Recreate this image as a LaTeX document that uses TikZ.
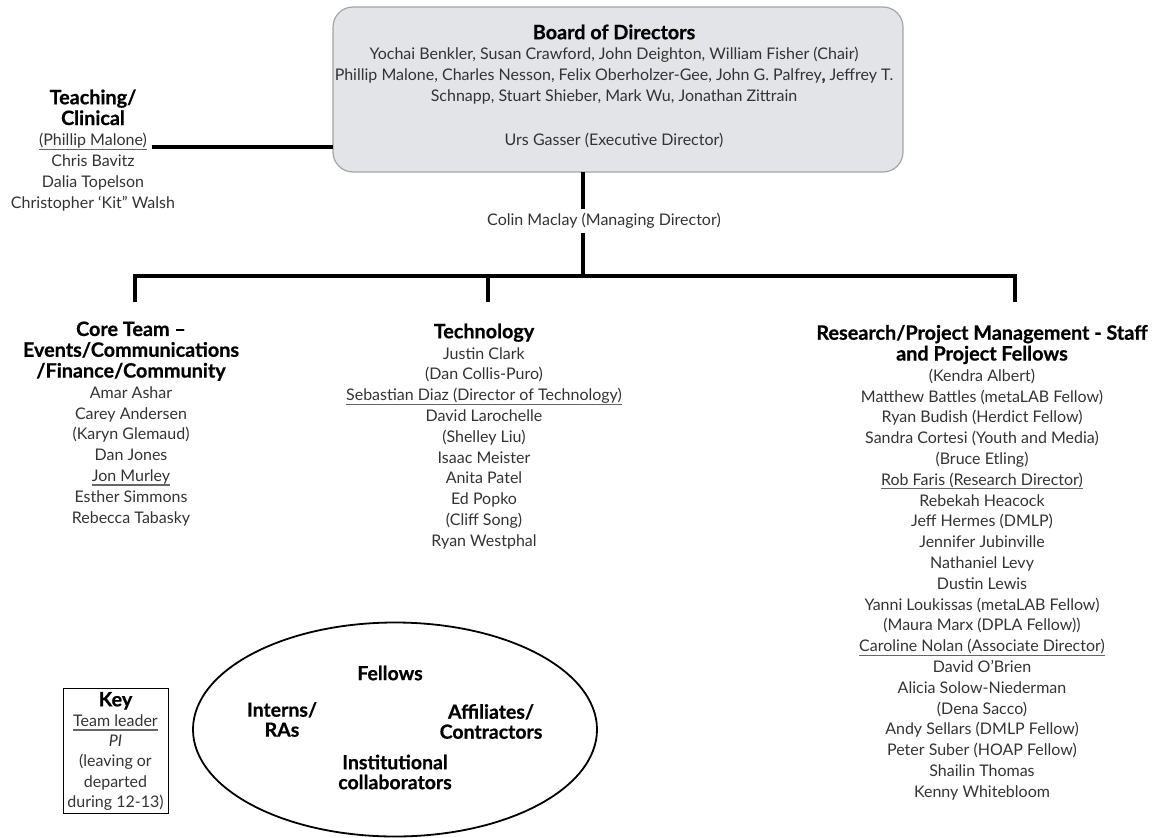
\documentclass[tikz,border=0pt]{standalone}
\usepackage{fontspec}
\setmainfont{Lato}[BoldFeatures={FakeBold=0.7}]
\usetikzlibrary{shapes.geometric}
\definecolor{txt}{HTML}{333333}
\definecolor{uline}{HTML}{666666}
\definecolor{boardfill}{HTML}{E2E4E7}
\definecolor{boardline}{HTML}{A3A5A8}
\newcommand\uln[1]{\setbox0\hbox{#1}\rlap{\color{uline}\rule[-4pt]{\wd0}{1.1pt}}\box0}
\newcommand\hd[1]{{\color{black}\bfseries\fontsize{19.8}{20.8}\selectfont #1}}
\begin{document}
\begin{tikzpicture}[x=1pt,y=-1pt,
  every node/.style={inner sep=0pt, outer sep=0pt},
  names/.style={text=txt, font=\fontsize{16}{20.8}\selectfont, align=center, anchor=north},
  head/.style={text=black, font=\bfseries\fontsize{19.8}{20.8}\selectfont, align=center, anchor=north},
  eltext/.style={text=black, font=\bfseries\fontsize{19.5}{20}\selectfont, align=center},
  conn/.style={line width=3.4pt, line join=miter}]
\useasboundingbox (0,0) rectangle (1154,838);

% Board of directors
\node[draw=boardline, fill=boardfill, rounded corners=20pt, line width=1.2pt,
      minimum width=570pt, minimum height=165pt] (board) at (618,89.5) {};
\node[head] (boardtitle) at (614,24.5) {Board of Directors};
\node[names] (members) at (614,47.5) {Yochai Benkler, Susan Crawford, John Deighton, William Fisher (Chair)\\
Phillip Malone, Charles Nesson, Felix Oberholzer-Gee, John G. Palfrey\textbf{,} Jeffrey T.\\
Schnapp, Stuart Shieber, Mark Wu, Jonathan Zittrain};
\node[names] (urs) at (614,133) {Urs Gasser (Executive Director)};

% Teaching / Clinical
\node[names] (teach) at (93,89.5) {\hd{Teaching/}\\\hd{Clinical}\\\uln{(Phillip Malone)}\\Chris Bavitz\\Dalia Topelson\\Christopher ‘Kit” Walsh};
\coordinate (tc) at (152,147);
\draw[conn] (tc) -- (tc -| board.west);

% Managing director
\coordinate (bus) at (583,276);
\draw[conn] (board.south -| bus) -- (bus);
\node[text=txt, font=\fontsize{16}{20.8}\selectfont, fill=white, inner xsep=1pt, inner ysep=4pt] (colin) at (604,221) {Colin Maclay (Managing Director)};

% Bus and drops
\coordinate (dropL) at (135,302);
\coordinate (dropM) at (488,302);
\coordinate (dropR) at (1015,302);
\draw[conn] (dropL) |- (bus) -| (dropR);
\draw[conn] (dropM) -- (dropM |- bus);

% Core team
\node[names] (core) at (131,321.5) {\hd{Core Team –}\\\hd{Events/Communications}\\\hd{/Finance/Community}\\Amar Ashar\\Carey Andersen\\(Karyn Glemaud)\\Dan Jones\\\uln{Jon Murley}\\Esther Simmons\\Rebecca Tabasky};

% Technology
\node[names] (tech) at (484,323.5) {\hd{Technology}\\Justin Clark\\(Dan Collis-Puro)\\\uln{Sebastian Diaz (Director of Technology)}\\David Larochelle\\(Shelley Liu)\\Isaac Meister\\Anita Patel\\Ed Popko\\(Cliff Song)\\Ryan Westphal};

% Research
\node[names] (research) at (982,325) {\hd{Research/Project Management - Staff}\\\hd{and Project Fellows}\\(Kendra Albert)\\Matthew Battles (metaLAB Fellow)\\Ryan Budish (Herdict Fellow)\\Sandra Cortesi (Youth and Media)\\(Bruce Etling)\\\uln{Rob Faris (Research Director)}\\Rebekah Heacock\\Jeff Hermes (DMLP)\\Jennifer Jubinville\\Nathaniel Levy\\Dustin Lewis\\Yanni Loukissas (metaLAB Fellow)\\(Maura Marx (DPLA Fellow))\\\uln{Caroline Nolan (Associate Director)}\\David O’Brien\\Alicia Solow-Niederman\\(Dena Sacco)\\Andy Sellars (DMLP Fellow)\\Peter Suber (HOAP Fellow)\\Shailin Thomas\\Kenny Whitebloom};

% Key
\node[draw=black, line width=1pt, minimum width=105pt, minimum height=125pt] (keybox) at (115.5,750.5) {};
\node[names, font=\fontsize{16}{20.2}\selectfont] (keytext) at (115.5,692) {\hd{Key}\\\uln{Team leader}\\\textit{PI}\\(leaving or\\departed\\during 12-13)};

% Ellipse
\node[draw=black, ellipse, line width=1.8pt, minimum width=404pt, minimum height=214pt] (circle) at (395,729.5) {};
\node[eltext] (fellows) at (390,673) {Fellows};
\node[eltext] (interns) at (282,719.5) {Interns/\\RAs};
\node[eltext] (affil) at (491,721.5) {Affiliates/\\Contractors};
\node[eltext] (inst) at (395,772) {Institutional\\collaborators};
\end{tikzpicture}
\end{document}
